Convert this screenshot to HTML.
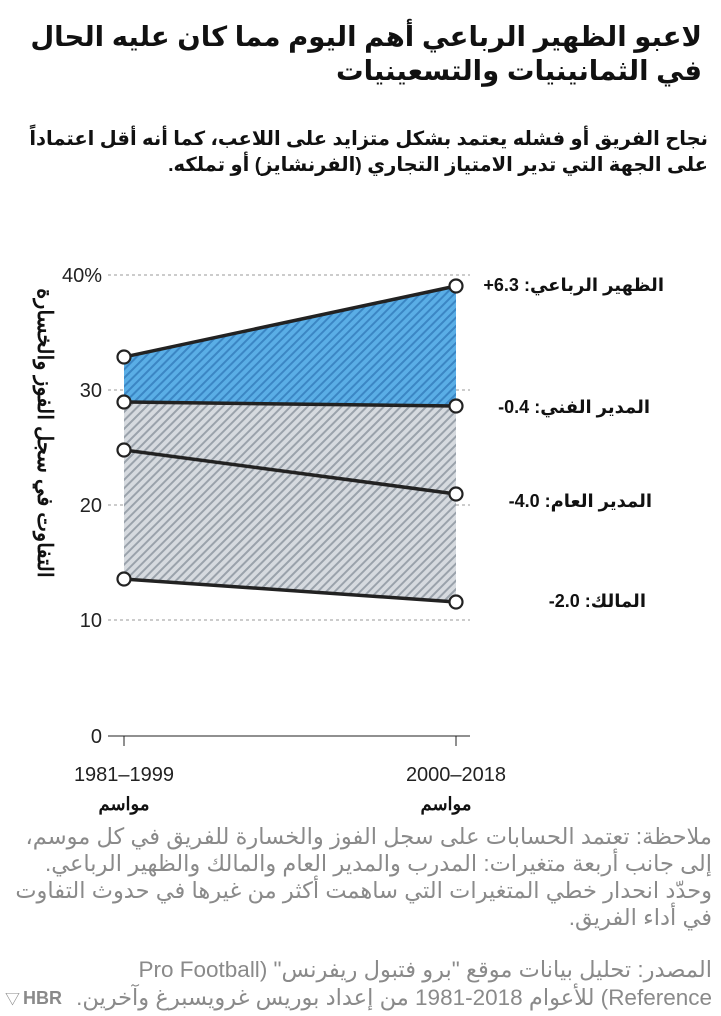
<!DOCTYPE html>
<html><head><meta charset="utf-8"><style>
body{margin:0;background:#fff;width:721px;height:1016px;overflow:hidden;font-family:"Liberation Sans","Noto Sans CJK SC",sans-serif;position:relative}
svg{position:absolute;left:0;top:0}
text{font-family:"Liberation Sans","Noto Sans CJK SC",sans-serif}
.r{position:absolute;direction:rtl;text-align:right;white-space:nowrap;font-family:"Liberation Sans","DejaVu Sans",sans-serif}
.t{font-size:27.5px;font-weight:bold;color:#111;right:19px;line-height:34px}
.s{font-size:19.5px;font-weight:bold;color:#111;right:13px;line-height:26px}
.l{font-size:18px;font-weight:bold;color:#111;line-height:22px}
.n{font-size:22.5px;color:#8a8a8a;right:9px;line-height:27px}
</style></head><body>
<svg width="721" height="1016" viewBox="0 0 721 1016">
<defs>
<pattern id="hb" width="6" height="6" patternUnits="userSpaceOnUse" patternTransform="rotate(45)">
<rect width="6" height="6" fill="#5aaee6"/><rect width="2" height="6" fill="#3b86c4"/></pattern>
<pattern id="hg" width="6" height="6" patternUnits="userSpaceOnUse" patternTransform="rotate(45)">
<rect width="6" height="6" fill="#d6dadf"/><rect width="2" height="6" fill="#9aa2ab"/></pattern>
</defs>
<g stroke="#999" stroke-dasharray="3,3" stroke-width="1">
<line x1="108" y1="275" x2="470" y2="275"/><line x1="108" y1="390" x2="470" y2="390"/>
<line x1="108" y1="505" x2="470" y2="505"/><line x1="108" y1="620" x2="470" y2="620"/>
</g>
<line x1="108" y1="736" x2="470" y2="736" stroke="#222" stroke-width="1"/>
<line x1="124" y1="736" x2="124" y2="746" stroke="#222"/><line x1="456" y1="736" x2="456" y2="746" stroke="#222"/>
<polygon points="124,357 456,286 456,406 124,402" fill="url(#hb)"/>
<polygon points="124,402 456,406 456,602 124,579" fill="url(#hg)"/>
<g stroke="#222" stroke-width="3.5" fill="none">
<line x1="124" y1="357" x2="456" y2="286"/><line x1="124" y1="402" x2="456" y2="406"/>
<line x1="124" y1="450" x2="456" y2="494"/><line x1="124" y1="579" x2="456" y2="602"/>
</g>
<g fill="#fff" stroke="#222" stroke-width="2.2">
<circle cx="124" cy="357" r="6.5"/><circle cx="456" cy="286" r="6.5"/>
<circle cx="124" cy="402" r="6.5"/><circle cx="456" cy="406" r="6.5"/>
<circle cx="124" cy="450" r="6.5"/><circle cx="456" cy="494" r="6.5"/>
<circle cx="124" cy="579" r="6.5"/><circle cx="456" cy="602" r="6.5"/>
</g>
<g font-size="20" fill="#222" text-anchor="end">
<text x="102" y="282">40%</text><text x="102" y="397">30</text><text x="102" y="512">20</text>
<text x="102" y="627">10</text><text x="102" y="743">0</text>
</g>
<text transform="translate(38,433) rotate(90)" font-size="21" font-weight="bold" text-anchor="middle" fill="#111">التفاوت في سجل الفوز والخسارة</text>
<g font-size="20" fill="#222" text-anchor="middle">
<text x="124" y="781">1981–1999</text><text x="456" y="781">2000–2018</text>
</g>
<g font-size="18" font-weight="bold" fill="#111" text-anchor="middle">
<text x="124" y="810">مواسم</text><text x="446" y="810">مواسم</text>
</g>
<text x="62" y="1004" font-size="18" font-weight="bold" fill="#8a8a8a" text-anchor="end">HBR</text>
<text x="5" y="1004" font-size="15" fill="#8a8a8a">▽</text>
</svg>
<div class="r t" style="top:20px">لاعبو الظهير الرباعي أهم اليوم مما كان عليه الحال</div>
<div class="r t" style="top:54px">في الثمانينيات والتسعينيات</div>
<div class="r s" style="top:126px">نجاح الفريق أو فشله يعتمد بشكل متزايد على اللاعب، كما أنه أقل اعتماداً</div>
<div class="r s" style="top:152px">على الجهة التي تدير الامتياز  التجاري (الفرنشايز) أو تملكه.</div>
<div class="r l" style="top:274px;right:57px">الظهير الرباعي: 6.3+</div>
<div class="r l" style="top:396px;right:71px">المدير الفني: 0.4-</div>
<div class="r l" style="top:490px;right:69px">المدير العام: 4.0-</div>
<div class="r l" style="top:590px;right:75px">المالك: 2.0-</div>
<div class="r n" style="top:823px">ملاحظة: تعتمد الحسابات على سجل الفوز والخسارة للفريق في كل موسم،</div>
<div class="r n" style="top:850px">إلى جانب أربعة متغيرات: المدرب والمدير العام والمالك والظهير الرباعي.</div>
<div class="r n" style="top:877px">وحدّد انحدار خطي المتغيرات التي ساهمت أكثر من غيرها في حدوث التفاوت</div>
<div class="r n" style="top:904px">في أداء الفريق.</div>
<div class="r n" style="top:956px">المصدر: تحليل بيانات موقع "برو فتبول ريفرنس" (Pro Football</div>
<div class="r n" style="top:984px">Reference) للأعوام 2018-1981 من إعداد بوريس غرويسبرغ وآخرين.</div>
</body></html>
